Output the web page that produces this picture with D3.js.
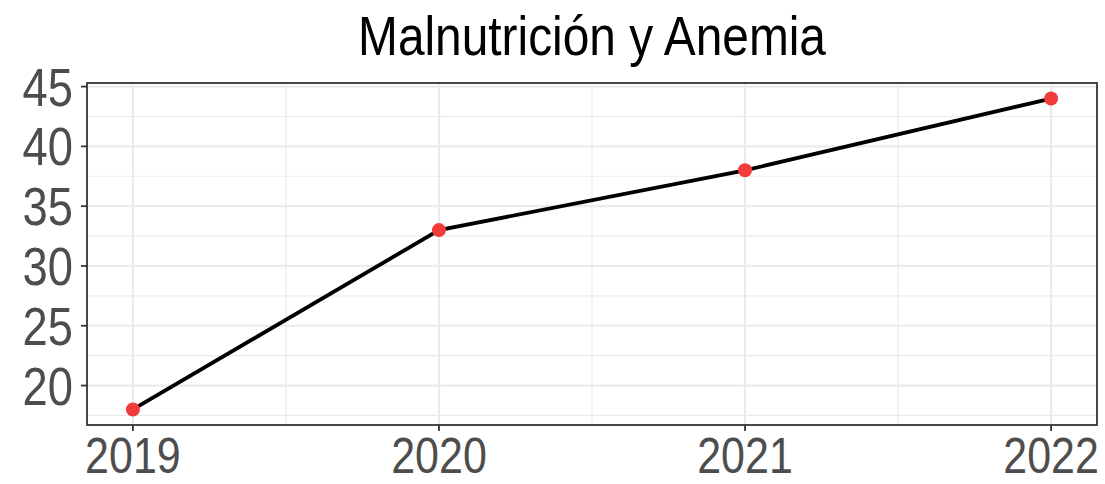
<!DOCTYPE html>
<html>
<head>
<meta charset="utf-8">
<script src="https://cdn.jsdelivr.net/npm/d3@7"></script>
<style>
  body { margin: 0; background: #fff; }
  text { font-family: "Liberation Sans", Arial, sans-serif; }
</style>
</head>
<body>
<script>
var years = [2019, 2020, 2021, 2022];
var values = [18, 33, 38, 44];
var yTicks = [20, 25, 30, 35, 40, 45];
var yMinor = [17.5, 22.5, 27.5, 32.5, 37.5, 42.5];
var xMinor = [2019.5, 2020.5, 2021.5];
var title = "Malnutrición y Anemia";

var width = 1105, height = 484;
var panel = {left: 87, right: 1097, top: 83, bottom: 425};
var sx = 0.84; // text looks horizontally squeezed in the picture

var svg = d3.select("body").append("svg")
  .attr("width", width)
  .attr("height", height);

// ggplot style 5% / 0.6 expansion
var x = d3.scaleLinear().domain([2018.85, 2022.15]).range([panel.left, panel.right]);
var y = d3.scaleLinear().domain([16.7, 45.3]).range([panel.bottom, panel.top]);

// grid
var grid = svg.append("g");
grid.selectAll(".ymin").data(yMinor).enter().append("line")
  .attr("x1", panel.left).attr("x2", panel.right)
  .attr("y1", d => y(d)).attr("y2", d => y(d))
  .attr("stroke", "#EBEBEB").attr("stroke-width", 1.2);
grid.selectAll(".xmin").data(xMinor).enter().append("line")
  .attr("y1", panel.top).attr("y2", panel.bottom)
  .attr("x1", d => x(d)).attr("x2", d => x(d))
  .attr("stroke", "#EBEBEB").attr("stroke-width", 1.2);
grid.selectAll(".ymaj").data(yTicks).enter().append("line")
  .attr("x1", panel.left).attr("x2", panel.right)
  .attr("y1", d => y(d)).attr("y2", d => y(d))
  .attr("stroke", "#EBEBEB").attr("stroke-width", 2.2);
grid.selectAll(".xmaj").data(years).enter().append("line")
  .attr("y1", panel.top).attr("y2", panel.bottom)
  .attr("x1", d => x(d)).attr("x2", d => x(d))
  .attr("stroke", "#EBEBEB").attr("stroke-width", 2.2);

// line + points
var line = d3.line().x((d, i) => x(years[i])).y(d => y(d));
svg.append("path")
  .datum(values)
  .attr("d", line)
  .attr("fill", "none")
  .attr("stroke", "#000")
  .attr("stroke-width", 3.8);

svg.selectAll(".pt").data(values).enter().append("circle")
  .attr("cx", (d, i) => x(years[i]))
  .attr("cy", d => y(d))
  .attr("r", 7)
  .attr("fill", "#F23C3C");

// panel border
svg.append("rect")
  .attr("x", panel.left).attr("y", panel.top)
  .attr("width", panel.right - panel.left)
  .attr("height", panel.bottom - panel.top)
  .attr("fill", "none")
  .attr("stroke", "#333333")
  .attr("stroke-width", 1.8);

// y axis
var ya = svg.append("g");
ya.selectAll("line").data(yTicks).enter().append("line")
  .attr("x1", panel.left - 6).attr("x2", panel.left)
  .attr("y1", d => y(d)).attr("y2", d => y(d))
  .attr("stroke", "#333333").attr("stroke-width", 1.8);
ya.selectAll("text").data(yTicks).enter().append("text")
  .attr("transform", d => "translate(" + (panel.left - 14) + "," + (y(d) + 19) + ") scale(" + sx + ",1)")
  .attr("text-anchor", "end")
  .attr("font-size", 54)
  .attr("fill", "#4D4D4D")
  .text(d => d);

// x axis
var xa = svg.append("g");
xa.selectAll("line").data(years).enter().append("line")
  .attr("y1", panel.bottom).attr("y2", panel.bottom + 6)
  .attr("x1", d => x(d)).attr("x2", d => x(d))
  .attr("stroke", "#333333").attr("stroke-width", 1.8);
xa.selectAll("text").data(years).enter().append("text")
  .attr("transform", d => "translate(" + x(d) + "," + 473 + ") scale(0.86,1)")
  .attr("text-anchor", "middle")
  .attr("font-size", 50)
  .attr("fill", "#4D4D4D")
  .text(d => d);

// title
svg.append("text")
  .attr("transform", "translate(" + ((panel.left + panel.right) / 2) + ",55) scale(0.87,1)")
  .attr("text-anchor", "middle")
  .attr("font-size", 55)
  .attr("fill", "#000")
  .text(title);
</script>
</body>
</html>
